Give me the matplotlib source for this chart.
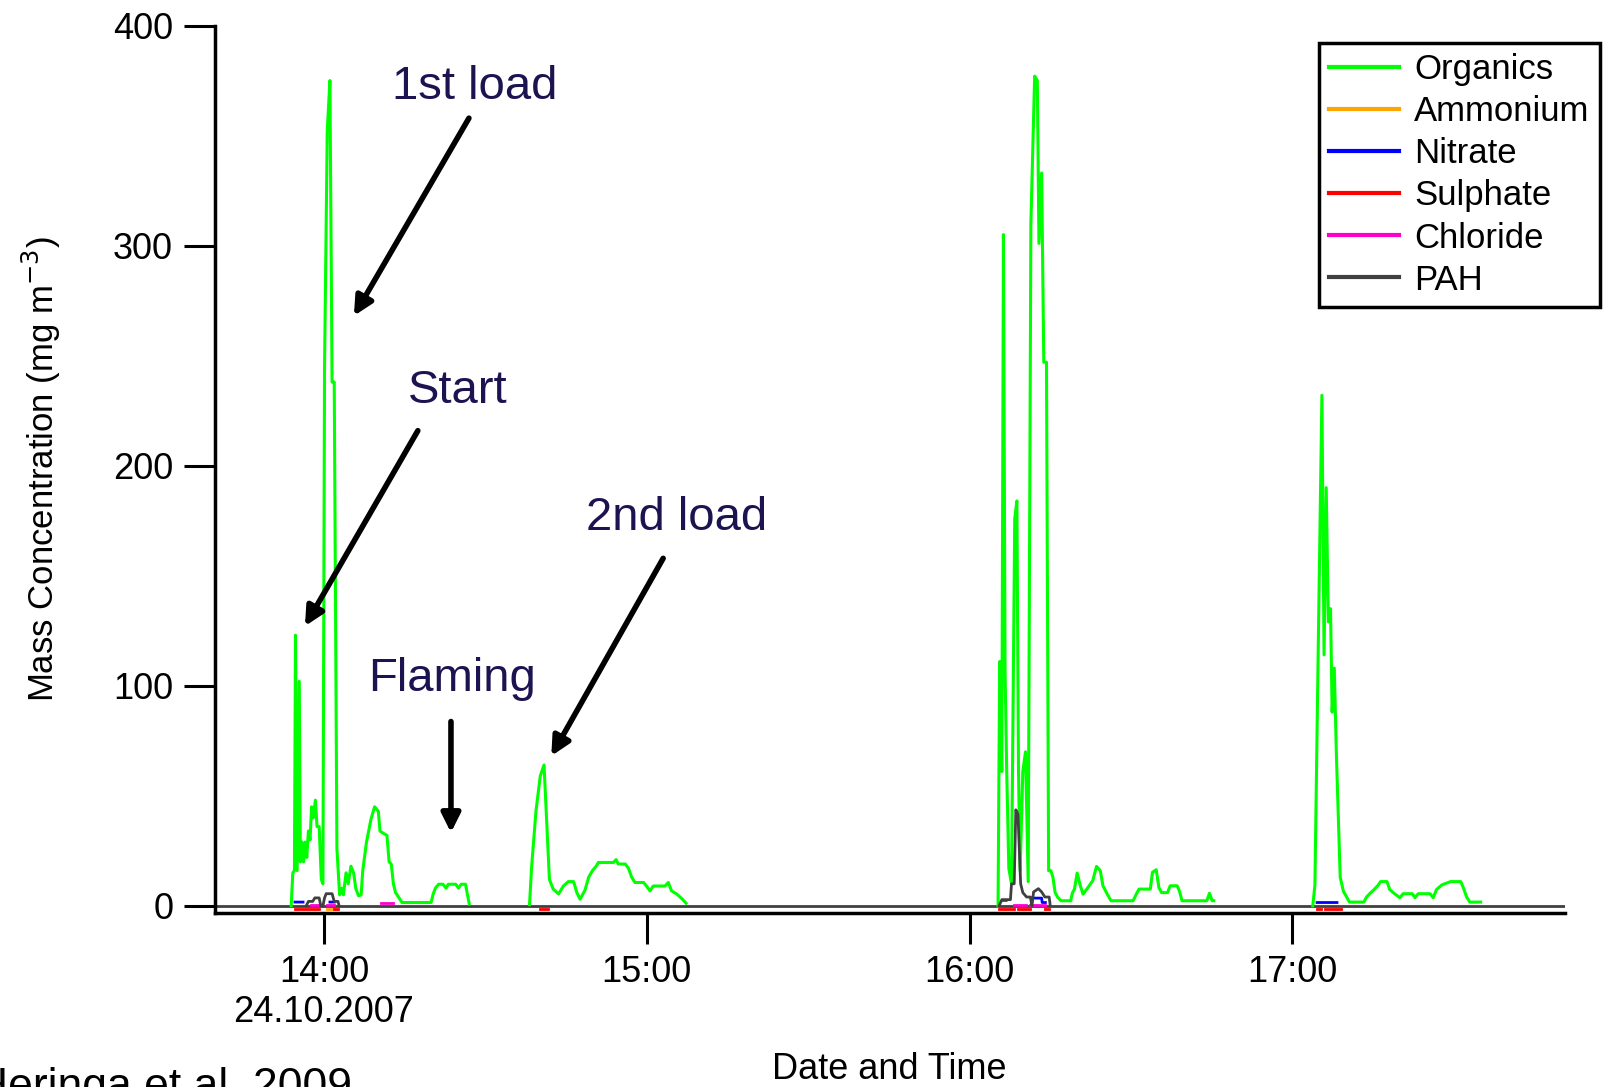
import numpy as np
import matplotlib.pyplot as plt

# tiempo en minutos desde las 14:00 (24.10.2007), concentraciones en mg m-3
nan = np.nan

org_t = [-6.1, -5.8, -5.5, -5.3, -5.0, -4.6, -4.4, -4.1, -3.8, -3.5, -3.2, -2.9, -2.6, -2.3,
         -2.0, -1.6, -1.3, -0.9, -0.5, -0.2, 0.1, 0.6, 1.1, 1.5, 1.9, 2.4, 2.9, 3.3, 3.6, 4.1,
         4.5, 5.0, 5.5, 5.9, 6.4, 6.9, 7.2, 7.9, 8.7, 9.4, 10.1, 10.4, 11.0, 11.7, 12.1, 12.5,
         12.9, 13.3, 13.9, 14.5, 16.0, 17.5, 19.0, 19.9, 20.3, 20.7, 21.3, 22.1, 22.7, 23.1,
         24.5, 25.0, 25.5, 26.3, 26.7, 27.0, nan,
         38.2, 38.6, 39.4, 40.2, 40.9, 41.4, 41.9, 42.6, 43.6, 44.5, 45.4, 46.4, 47.0, 47.6,
         48.5, 49.2, 49.9, 50.6, 51.0, 53.8, 54.3, 54.7, 56.0, 56.6, 57.2, 57.8, 59.4, 60.0,
         60.6, 61.2, 63.4, 64.0, 64.6, 65.6, 66.5, 67.3, nan,
         125.3, 125.6, 126.0, 126.3, 126.6, 126.9, 127.3, 127.8, 128.4, 128.8, 129.1, 129.4,
         129.9, 130.4, 130.9, 131.4, 132.1, 132.6, 132.9, 133.4, 133.8, 134.3, 134.7, 135.1,
         135.5, 135.9, 136.4, 137.0, 138.8, 139.1, 139.5, 140.0, 140.6, 141.1, 141.8, 142.9,
         143.6, 144.3, 144.8, 145.6, 146.3, 150.4, 151.0, 151.5, 153.6, 154.0, 154.7, 155.2,
         155.7, 156.8, 157.3, 158.6, 159.0, 159.5, 164.1, 164.6, 165.1, 165.4, nan,
         183.8, 184.2, 184.8, 185.5, 185.9, 186.3, 186.7, 187.1, 187.4, 187.8, 188.2, 188.9,
         189.5, 190.1, 190.6, 193.3, 193.8, 194.5, 195.2, 196.0, 196.4, 197.6, 198.1, 199.0,
         200.0, 200.6, 202.3, 202.8, 203.4, 205.6, 206.2, 206.8, 207.8, 209.4, 211.3, 211.8,
         212.4, 213.0, 215.0]
org_v = [0, 15, 16, 123, 16, 102, 20, 29, 20, 29, 22, 34, 30, 45,
         40, 48, 36, 36, 12, 10, 245, 352, 375, 238, 238, 26, 5, 8, 5, 15,
         10, 18, 15, 8, 4.6, 5, 16, 29, 39, 45, 43, 34, 33, 32, 20, 19,
         10, 6, 3.8, 1.5, 1.5, 1.5, 1.5, 1.5, 5.4, 8, 9.8, 9.8, 8, 9.8,
         9.8, 8, 9.8, 9.8, 4.5, 0.8, nan,
         0.5, 18, 43, 59, 64, 38, 12, 7.6, 5.4, 9, 11, 11, 6, 3,
         7, 13, 16, 18, 19.7, 19.7, 21, 19, 19, 17, 13, 10.6, 10.6, 8.8,
         6.8, 9, 9, 10.6, 6.8, 5.3, 3.3, 1.2, nan,
         0, 111, 61, 305, 107, 62, 17, 10, 176, 184, 61, 16,
         61, 70, 11, 310, 377, 375, 301, 333, 247, 247, 16, 16,
         13, 6.1, 3.8, 2.3, 2.3, 5.7, 7.6, 14.9, 9.1, 5.3, 7.6, 11.4,
         17.9, 16, 9.1, 5.3, 2.3, 2.3, 5.3, 7.6, 7.6, 15.2, 16.4, 8.3,
         6, 6, 9.1, 9.1, 6.8, 2.3, 2.3, 5.7, 2.3, 2.3, nan,
         0, 9.4, 114, 232, 114, 190, 129, 135, 88, 108, 68, 13,
         6.6, 4, 1.7, 1.7, 4, 5.8, 7.4, 9.5, 11, 11, 7.4, 5.5,
         3.7, 5.5, 5.5, 3.7, 5.5, 5.5, 3.7, 7.4, 9.5, 11, 11, 8.2,
         4, 1.7, 1.7]

amm_t = [0.55, 1.9]
amm_v = [-1.5, -1.5]

nit_t = [-5.4, -3.9, nan, 1.1, 1.9, nan, 126.2, 126.8, nan, 132.0, 133.4, 133.5, 134.1, nan, 184.6, 188.3]
nit_v = [1.7, 1.7, nan, 1.7, 1.7, nan, 2.5, 2.5, nan, 3.5, 3.5, 1.5, 1.5, nan, 1.5, 1.5]

sul_t = [-5.4, -0.9, nan, 1.9, 2.6, nan, 40.2, 41.6, nan, 125.5, 128.3, nan, 129.0, 131.3, nan,
         134.1, 134.8, nan, 184.6, 185.3, nan, 186.1, 189.0]
sul_v = [-1.5, -1.5, nan, -1.5, -1.5, nan, -1.5, -1.5, nan, -1.5, -1.5, nan, -1.5, -1.5, nan,
         -1.5, -1.5, nan, -1.5, -1.5, nan, -1.5, -1.5]

chl_t = [-2.4, -0.9, nan, 0.55, 1.9, nan, 10.6, 12.8, nan, 128.3, 130.5, nan, 131.3, 134.1]
chl_v = [0.2, 0.2, nan, 0.2, 0.2, nan, 1.5, 1.5, nan, 0.2, 0.2, nan, 0.2, 0.2]

pah_t = [-3.3, -2.9, -2.1, -1.7, -0.9, -0.6, nan, -0.2, 0.1, 0.4, 1.5, 1.9, 2.6, 2.8, nan,
         125.5, 126.0, 127.6, 127.8, 128.3, 128.6, 129.0, 129.5, 129.9, 130.6, 131.3, 131.6,
         131.9, 132.8, 133.4, 134.0, 134.8, 135.0]
pah_v = [0, 2, 2, 3.6, 3.6, 0, nan, 0, 3.6, 5.5, 5.5, 2, 2, 0, nan,
         0, 2.8, 2.8, 10, 10, 43.6, 41.6, 10, 6, 4, 4, 0,
         6.3, 7.8, 6.3, 4, 4, 0]

tick_pos = [0, 60, 120, 180]
tick_lab = ['14:00\n24.10.2007', '15:00', '16:00', '17:00']

# etiquetas con flecha: (texto, posicion del texto, inicio flecha, punta flecha)
notas = [('1st load', (28.1, 372), (27.2, 359), (5.3, 267)),
         ('Start', (24.9, 234), (17.7, 217), (-3.8, 126)),
         ('Flaming', (23.8, 103), (23.6, 85), (23.6, 32)),
         ('2nd load', (65.6, 176), (63.3, 159), (42.0, 67))]

plt.rcParams['font.family'] = ['Liberation Sans', 'DejaVu Sans']

fig = plt.figure(figsize=(16.03, 10.87), dpi=100)
ax = fig.add_axes([0.134, 0.160, 0.842, 0.8165])

ax.axhline(0, color='#404040', lw=2, zorder=1)
ax.plot(org_t, org_v, color='#00ff00', lw=2.2, label='Organics', zorder=2)
ax.plot(amm_t, amm_v, color='#ffa500', lw=2, label='Ammonium', zorder=3)
ax.plot(nit_t, nit_v, color='#0000ff', lw=2, label='Nitrate', zorder=3)
ax.plot(sul_t, sul_v, color='#ff0000', lw=2, label='Sulphate', zorder=3)
ax.plot(chl_t, chl_v, color='#ff00cc', lw=2, label='Chloride', zorder=3)
ax.plot(pah_t, pah_v, color='#404040', lw=2, label='PAH', zorder=3)

for texto, pos, ini, fin in notas:
    ax.text(pos[0], pos[1], texto, fontsize=34, color='#1c1450', ha='center', va='center')
    ax.annotate('', xy=fin, xytext=ini,
                arrowprops=dict(arrowstyle='-|>', lw=4, color='black', mutation_scale=28))

ax.set_xlim(-20.3, 230.6)
ax.set_ylim(-3.3, 400)
ax.set_yticks([0, 100, 200, 300, 400])
ax.set_xticks(tick_pos)
ax.set_xticklabels(tick_lab)
ax.tick_params(direction='out', length=22, width=2.2, labelsize=26, pad=8)
for s in ['top', 'right']:
    ax.spines[s].set_visible(False)
for s in ['left', 'bottom']:
    ax.spines[s].set_linewidth(2.5)

ax.set_ylabel(r'Mass Concentration (mg m$^{-3}$)', fontsize=25, labelpad=36)
ax.set_xlabel('Date and Time', fontsize=26, labelpad=16)

leg = ax.legend(loc='upper right', bbox_to_anchor=(1600 / 1603, 1 - 43 / 1087),
                bbox_transform=fig.transFigure, fontsize=25, frameon=True, fancybox=False,
                edgecolor='black', framealpha=1, handlelength=2.0, handletextpad=0.45,
                labelspacing=0.26, borderpad=0.3, borderaxespad=0)
leg.get_frame().set_linewidth(2.5)
for linea in leg.get_lines():
    linea.set_linewidth(3)

fig.text(-0.015, -0.011, 'Heringa et al. 2009', fontsize=32, va='baseline')

fig.savefig('out.png', dpi=100)
